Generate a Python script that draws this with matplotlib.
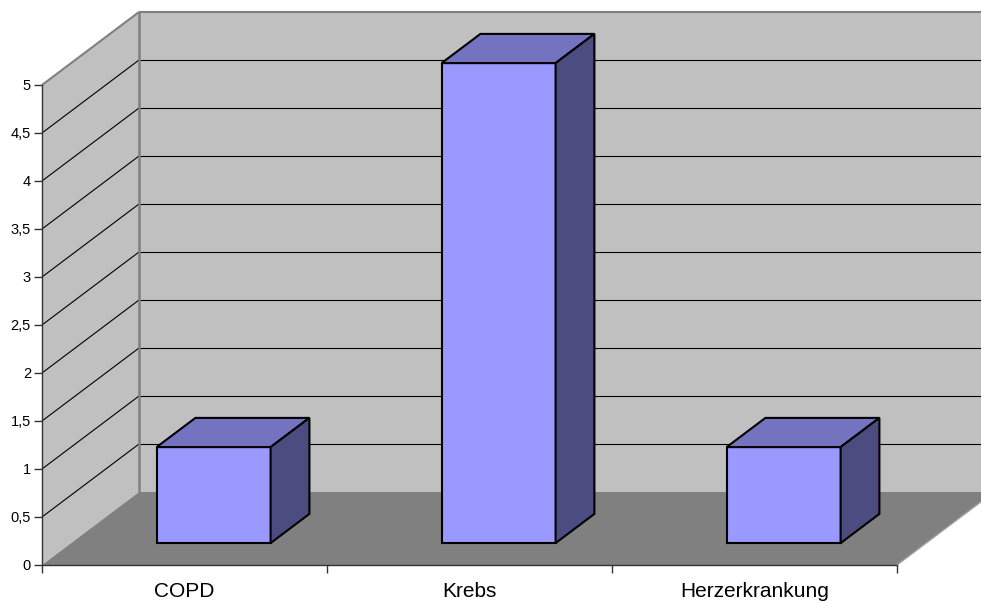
import matplotlib.pyplot as plt
from matplotlib.patches import Polygon

# Data
categories = ['COPD', 'Krebs', 'Herzerkrankung']
values = [1, 5, 1]
y_ticks = [0, 0.5, 1, 1.5, 2, 2.5, 3, 3.5, 4, 4.5, 5]
y_tick_labels = ['0', '0,5', '1', '1,5', '2', '2,5', '3', '3,5', '4', '4,5', '5']

# Oblique "3D" look, depth offset of the back wall in data units
DX = 97 / 285.0
DY = 73 / 96.0
BAR_WIDTH = 0.4
BAR_DEPTH = (0.3, 0.7)

WALL = '#C0C0C0'
FLOOR = '#808080'
EDGE = '#808080'
FRONT = '#9999FF'
TOP = '#7373BF'
SIDE = '#4C4C80'

plt.rcParams['font.family'] = ['Liberation Sans', 'DejaVu Sans']


def proj(x, y, z):
    # z = 0 front plane, z = 1 back wall
    return (x + z * DX, y + z * DY)


def poly(ax, pts, fc, zorder, ec='none', lw=0):
    p = Polygon(pts, closed=True, facecolor=fc, edgecolor=ec, linewidth=lw,
                joinstyle='miter', clip_on=False, zorder=zorder)
    ax.add_patch(p)


def line(ax, a, b, color, lw, zorder):
    ax.plot([a[0], b[0]], [a[1], b[1]], color=color, lw=lw,
            clip_on=False, zorder=zorder, solid_capstyle='butt')


fig = plt.figure(figsize=(9.81, 6.02), dpi=100)
ax = fig.add_axes([42 / 981, 37 / 602, 855 / 981, 480 / 602])
ax.patch.set_visible(False)
n = len(categories)
ymax = y_ticks[-1]
ax.set_xlim(0, n)
ax.set_ylim(0, ymax)

# walls and floor
poly(ax, [proj(0, 0, 0), proj(0, 0, 1), proj(0, ymax, 1), proj(0, ymax, 0)], WALL, 0.5)
poly(ax, [proj(0, 0, 1), proj(n + 0.5, 0, 1), proj(n + 0.5, ymax, 1), proj(0, ymax, 1)], WALL, 0.5)
poly(ax, [proj(0, 0, 0), proj(n, 0, 0), proj(n, 0, 1), proj(0, 0, 1)], FLOOR, 0.6)

# gridlines on both walls
for t in y_ticks[1:-1]:
    line(ax, proj(0, t, 0), proj(0, t, 1), 'black', 0.8, 0.8)
    line(ax, proj(0, t, 1), proj(n + 0.5, t, 1), 'black', 0.8, 0.8)

# wall edges
line(ax, proj(0, ymax, 0), proj(0, ymax, 1), EDGE, 1.5, 0.9)
line(ax, proj(0, ymax, 1), proj(n + 0.5, ymax, 1), EDGE, 1.5, 0.9)
line(ax, proj(0, 0, 1), proj(0, ymax, 1), EDGE, 1.8, 0.9)
line(ax, proj(n, 0, 0), proj(n, 0, 1), '#A0A0A0', 1.0, 0.9)

# bars
z0, z1 = BAR_DEPTH
for i, v in enumerate(values):
    c = i + 0.5
    x0, x1 = c - BAR_WIDTH / 2, c + BAR_WIDTH / 2
    poly(ax, [proj(x0, 0, z0), proj(x1, 0, z0), proj(x1, v, z0), proj(x0, v, z0)],
         FRONT, 2, 'black', 1.5)
    poly(ax, [proj(x0, v, z0), proj(x1, v, z0), proj(x1, v, z1), proj(x0, v, z1)],
         TOP, 2, 'black', 1.5)
    poly(ax, [proj(x1, 0, z0), proj(x1, 0, z1), proj(x1, v, z1), proj(x1, v, z0)],
         SIDE, 2, 'black', 1.5)

# axes
for s in ['top', 'right']:
    ax.spines[s].set_visible(False)
for s in ['left', 'bottom']:
    ax.spines[s].set_color('#333333')
    ax.spines[s].set_linewidth(1.0)
    ax.spines[s].set_zorder(3)

ax.set_yticks(y_ticks)
ax.set_yticklabels(y_tick_labels)
ax.tick_params(axis='y', direction='out', length=6, width=1, pad=2,
               labelsize=10.5, color='#333333')

ax.set_xticks(range(n + 1))
ax.set_xticklabels([''] * (n + 1))
ax.set_xticks([i + 0.5 for i in range(n)], minor=True)
ax.set_xticklabels(categories, minor=True)
ax.tick_params(axis='x', which='major', direction='out', length=6, width=1,
               color='#333333')
ax.tick_params(axis='x', which='minor', length=0, pad=12, labelsize=15)

fig.savefig('out.png', dpi=100)
